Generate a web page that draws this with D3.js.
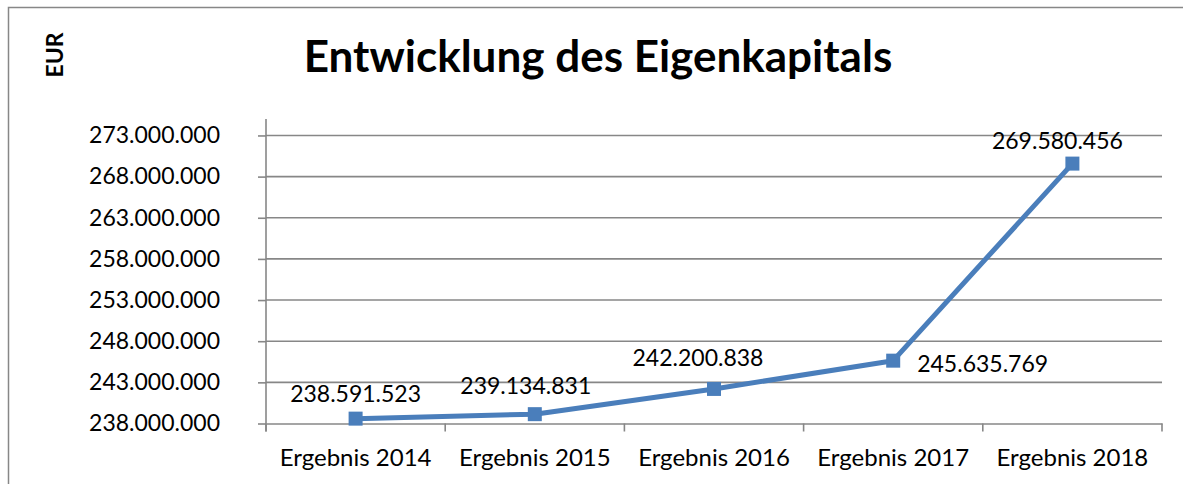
<!DOCTYPE html>
<html>
<head>
<meta charset="utf-8">
<script src="https://cdn.jsdelivr.net/npm/d3@7"></script>
<style>
  html, body { margin: 0; padding: 0; background: #fff; }
  svg { display: block; font-family: Lato, "Open Sans", sans-serif; }
</style>
</head>
<body>
<svg id="chart" width="1183" height="484"></svg>
<script>
// data
const categories = ["Ergebnis 2014", "Ergebnis 2015", "Ergebnis 2016", "Ergebnis 2017", "Ergebnis 2018"];
const values = [238591523, 239134831, 242200838, 245635769, 269580456];
const yTicks = [238000000, 243000000, 248000000, 253000000, 258000000, 263000000, 268000000, 273000000];
const yMin = 238000000, yMax = 275000000;
const title = "Entwicklung des Eigenkapitals";
const yLabel = "EUR";

// label nudges (dx, dy from the point, anchor) as placed in the original
const labelPos = [
  {dx: 0, dy: -25, anchor: "middle"},
  {dx: -9, dy: -28, anchor: "middle"},
  {dx: -16, dy: -31, anchor: "middle"},
  {dx: 24, dy: 3, anchor: "start"},
  {dx: -15, dy: -23, anchor: "middle"}
];

const margin = {top: 119, right: 21, bottom: 60, left: 266};
const width = 1183, height = 484;
const grey = "#878787", blue = "#4a7ebb";

const de = d3.formatLocale({decimal: ",", thousands: ".", grouping: [3], currency: ["", " €"]});
const fmt = de.format(",d");

const x = d3.scaleBand()
  .domain(categories)
  .range([margin.left, width - margin.right])
  .paddingInner(0).paddingOuter(0);

const y = d3.scaleLinear()
  .domain([yMin, yMax])
  .range([height - margin.bottom - 0.5, margin.top]);

const svg = d3.select("#chart");

// outer frame (only top & left show in the crop)
svg.append("rect")
  .attr("x", 8.5).attr("y", 7.5)
  .attr("width", width + 20).attr("height", height + 20)
  .attr("fill", "none").attr("stroke", grey).attr("stroke-width", 1.5);

// title
svg.append("text")
  .attr("x", 598).attr("y", 72)
  .attr("text-anchor", "middle")
  .attr("font-weight", "bold")
  .attr("font-size", 44)
  .attr("fill", "#000")
  .text(title);

// y axis title
svg.append("text")
  .attr("transform", "translate(63,55) rotate(-90)")
  .attr("text-anchor", "middle")
  .attr("font-weight", "bold")
  .attr("font-size", 23)
  .text(yLabel);

// gridlines
svg.append("g")
  .selectAll("line")
  .data(yTicks.slice(1))
  .join("line")
  .attr("x1", margin.left).attr("x2", width - margin.right)
  .attr("y1", d => y(d)).attr("y2", d => y(d))
  .attr("stroke", grey).attr("stroke-width", 1.6);

// y axis
const yAxis = svg.append("g")
  .attr("transform", `translate(${margin.left},0)`)
  .call(d3.axisLeft(y).tickValues(yTicks).tickFormat(fmt).tickSize(8).tickPadding(38));
yAxis.select(".domain").attr("d", `M-0,${y(yMax)}V${y(yMin) + 8}`).attr("stroke", grey).attr("stroke-width", 1.6);
yAxis.selectAll(".tick line").attr("stroke", grey).attr("stroke-width", 1.6);
yAxis.selectAll(".tick text").attr("font-size", 23).attr("fill", "#000").attr("font-family", "Lato, sans-serif");

// x axis: labels at centres, ticks on the category boundaries
const xAxis = svg.append("g")
  .attr("transform", `translate(0,${y(yMin)})`)
  .call(d3.axisBottom(x).tickSize(0).tickPadding(25));
xAxis.select(".domain").attr("stroke", grey).attr("stroke-width", 1.6);
xAxis.selectAll(".tick text").attr("font-size", 24).attr("fill", "#000").attr("font-family", "Lato, sans-serif");

const bounds = categories.map(c => x(c)).concat([x(categories[categories.length - 1]) + x.bandwidth()]);
xAxis.selectAll(".bound")
  .data(bounds)
  .join("line")
  .attr("class", "bound")
  .attr("x1", d => d).attr("x2", d => d)
  .attr("y1", 0).attr("y2", 8)
  .attr("stroke", grey).attr("stroke-width", 1.6);

// series
const pts = categories.map((c, i) => ({c, v: values[i], i}));
const cx = d => x(d.c) + x.bandwidth() / 2;

svg.append("path")
  .datum(pts)
  .attr("d", d3.line().x(cx).y(d => y(d.v)))
  .attr("fill", "none")
  .attr("stroke", blue)
  .attr("stroke-width", 5)
  .attr("stroke-linejoin", "round");

const ms = 14;
svg.append("g")
  .selectAll("rect")
  .data(pts)
  .join("rect")
  .attr("x", d => cx(d) - ms / 2)
  .attr("y", d => y(d.v) - ms / 2)
  .attr("width", ms).attr("height", ms)
  .attr("fill", blue);

// data labels
svg.append("g")
  .selectAll("text")
  .data(pts)
  .join("text")
  .attr("x", d => cx(d) + labelPos[d.i].dx)
  .attr("y", d => y(d.v) + labelPos[d.i].dy)
  .attr("dy", "0.35em")
  .attr("text-anchor", d => labelPos[d.i].anchor)
  .attr("font-size", 23)
  .attr("fill", "#000")
  .text(d => fmt(d.v));
</script>
</body>
</html>
